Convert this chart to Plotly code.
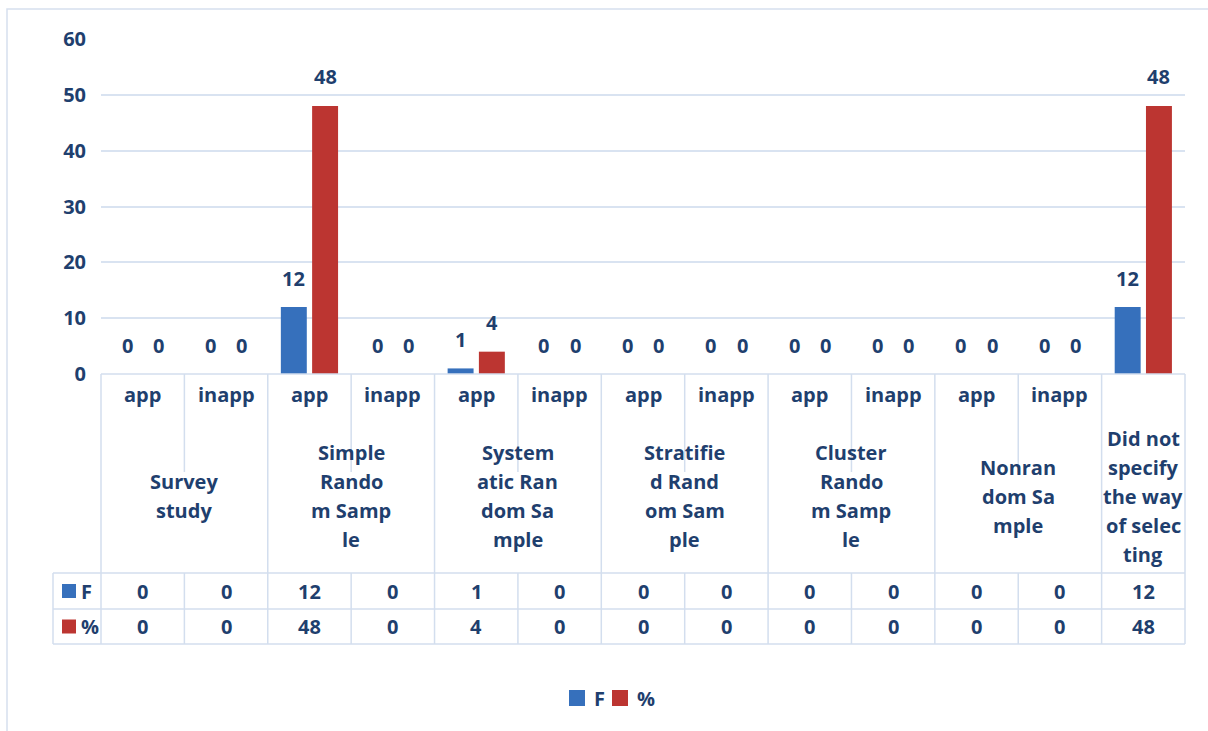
import plotly.graph_objects as go

# ---- data ----
sub_labels = ["app", "inapp", "app", "inapp", "app", "inapp", "app", "inapp",
              "app", "inapp", "app", "inapp", ""]
group_lines = [
    ["Survey", "study"],
    ["Simple", "Rando", "m Samp", "le"],
    ["System", "atic Ran", "dom Sa", "mple"],
    ["Stratifie", "d Rand", "om Sam", "ple"],
    ["Cluster", "Rando", "m Samp", "le"],
    ["Nonran", "dom Sa", "mple"],
    ["Did not", "specify", "the way", "of selec", "ting"],
]
group_spans = [2, 2, 2, 2, 2, 2, 1]
f_values = [0, 0, 12, 0, 1, 0, 0, 0, 0, 0, 0, 0, 12]
pct_values = [0, 0, 48, 0, 4, 0, 0, 0, 0, 0, 0, 0, 48]
series_names = ["F", "%"]
y_ticks = [0, 10, 20, 30, 40, 50, 60]

# ---- styling ----
W, H = 1208, 731
NAVY = "#1F3F6E"
BLUE = "#3670BC"
RED = "#BC3531"
GRID = "#D9E3F1"
TABLE = "#D3DEEE"
FONT = dict(family="Open Sans", size=20, color=NAVY, weight=700)
BARGAP = 0.25
BARGROUPGAP = 0.17

PLOT_L, PLOT_R = 101, 1185      # plot area, px
PLOT_T, PLOT_B = 39, 374
ROWCOL_L = 53                   # left edge of the row-label column
HEAD_B, F_B, P_B = 573, 609, 644
INNER_SEP_B = 472


def xp(px):
    return px / W


def yp(py):
    return 1 - py / H


n = len(sub_labels)
xs = list(range(n))
cw = (PLOT_R - PLOT_L) / n


def col_edge(i):
    return PLOT_L + i * cw


fig = go.Figure()
fig.add_trace(go.Bar(x=xs, y=f_values, name=series_names[0],
                     marker=dict(color=BLUE, line=dict(width=0))))
fig.add_trace(go.Bar(x=xs, y=pct_values, name=series_names[1],
                     marker=dict(color=RED, line=dict(width=0))))

shapes = []
annotations = []


def hline(y, x0, x1):
    shapes.append(dict(type="line", xref="paper", yref="paper",
                       x0=xp(x0), x1=xp(x1), y0=yp(y), y1=yp(y),
                       line=dict(color=TABLE, width=1.5)))


def vline(x, y0, y1):
    shapes.append(dict(type="line", xref="paper", yref="paper",
                       x0=xp(x), x1=xp(x), y0=yp(y0), y1=yp(y1),
                       line=dict(color=TABLE, width=1.5)))


# outer chart border
shapes.append(dict(type="rect", xref="paper", yref="paper",
                   x0=xp(7), x1=1.02, y0=-0.02, y1=yp(9),
                   line=dict(color="#D6E0EE", width=1.5), fillcolor="rgba(0,0,0,0)"))

# data-table grid
hline(PLOT_B, PLOT_L, PLOT_R)
for yb in (HEAD_B, F_B, P_B):
    hline(yb, ROWCOL_L, PLOT_R)
vline(ROWCOL_L, HEAD_B, P_B)

group_edges = [0]
for s in group_spans:
    group_edges.append(group_edges[-1] + s)
for i in range(n + 1):
    if i in group_edges:
        vline(col_edge(i), PLOT_B, P_B)
    else:
        vline(col_edge(i), PLOT_B, INNER_SEP_B)
        vline(col_edge(i), HEAD_B, P_B)

# sub-category labels
for i, lab in enumerate(sub_labels):
    if lab:
        annotations.append(dict(x=i, xref="x", y=yp(394), yref="paper",
                                text=lab, showarrow=False, font=FONT,
                                xanchor="center", yanchor="middle"))

# group labels, one annotation per wrapped line
LINE_H = 29
GROUP_MID = 496
for g, lines in enumerate(group_lines):
    start = group_edges[g]
    cx = start + (group_spans[g] - 1) / 2
    k0 = (len(lines) - 1) / 2
    for k, line in enumerate(lines):
        annotations.append(dict(x=cx, xref="x",
                                y=yp(GROUP_MID + (k - k0) * LINE_H), yref="paper",
                                text=line, showarrow=False, font=FONT,
                                xanchor="center", yanchor="middle"))

# table values
row_centers = [(HEAD_B + F_B) / 2, (F_B + P_B) / 2]
for row_vals, yc in zip((f_values, pct_values), row_centers):
    for i, v in enumerate(row_vals):
        annotations.append(dict(x=i, xref="x", y=yp(yc), yref="paper",
                                text=str(v), showarrow=False, font=FONT,
                                xanchor="center", yanchor="middle"))

# row keys
for name, color, yc in zip(series_names, (BLUE, RED), row_centers):
    shapes.append(dict(type="rect", xref="paper", yref="paper",
                       x0=xp(62), x1=xp(76), y0=yp(yc - 7), y1=yp(yc + 7),
                       line=dict(width=0), fillcolor=color))
    annotations.append(dict(x=xp(79), xref="paper", y=yp(yc), yref="paper",
                            text=name, showarrow=False, font=FONT,
                            xanchor="left", yanchor="middle"))

# value labels above bars
off = (1 - BARGAP) / 4
for vals, dx in ((f_values, -off), (pct_values, off)):
    for i, v in enumerate(vals):
        annotations.append(dict(x=i + dx, xref="x", y=v, yref="y",
                                text=str(v), showarrow=False, font=FONT,
                                xanchor="center", yanchor="middle", yshift=29))

# bottom legend
LEG_Y = 698
for name, color, sx in zip(series_names, (BLUE, RED), (569, 612)):
    shapes.append(dict(type="rect", xref="paper", yref="paper",
                       x0=xp(sx), x1=xp(sx + 16), y0=yp(LEG_Y + 8), y1=yp(LEG_Y - 8),
                       line=dict(width=0), fillcolor=color))
    annotations.append(dict(x=xp(sx + 23), xref="paper", y=yp(LEG_Y), yref="paper",
                            text=name, showarrow=False, font=FONT,
                            xanchor="left", yanchor="middle"))

fig.update_layout(
    width=W, height=H, autosize=False,
    margin=dict(l=0, r=0, t=0, b=0, pad=0, autoexpand=False),
    paper_bgcolor="white", plot_bgcolor="white",
    barmode="group", bargap=BARGAP, bargroupgap=BARGROUPGAP,
    showlegend=False,
    font=FONT,
    xaxis=dict(domain=[xp(PLOT_L), xp(PLOT_R)], range=[-0.5, n - 0.5],
               showticklabels=False, showgrid=False, zeroline=False,
               showline=False, ticks="", automargin=False, fixedrange=True),
    yaxis=dict(domain=[yp(PLOT_B), yp(PLOT_T)], range=[0, 60],
               tickvals=y_ticks, ticktext=[str(t) for t in y_ticks],
               showgrid=True, gridcolor=GRID, gridwidth=1.5,
               zeroline=False, showline=False, ticks="",
               ticklabelstandoff=14, tickfont=FONT,
               automargin=False, fixedrange=True),
    shapes=shapes,
    annotations=annotations,
)

fig.write_html("out.html")
